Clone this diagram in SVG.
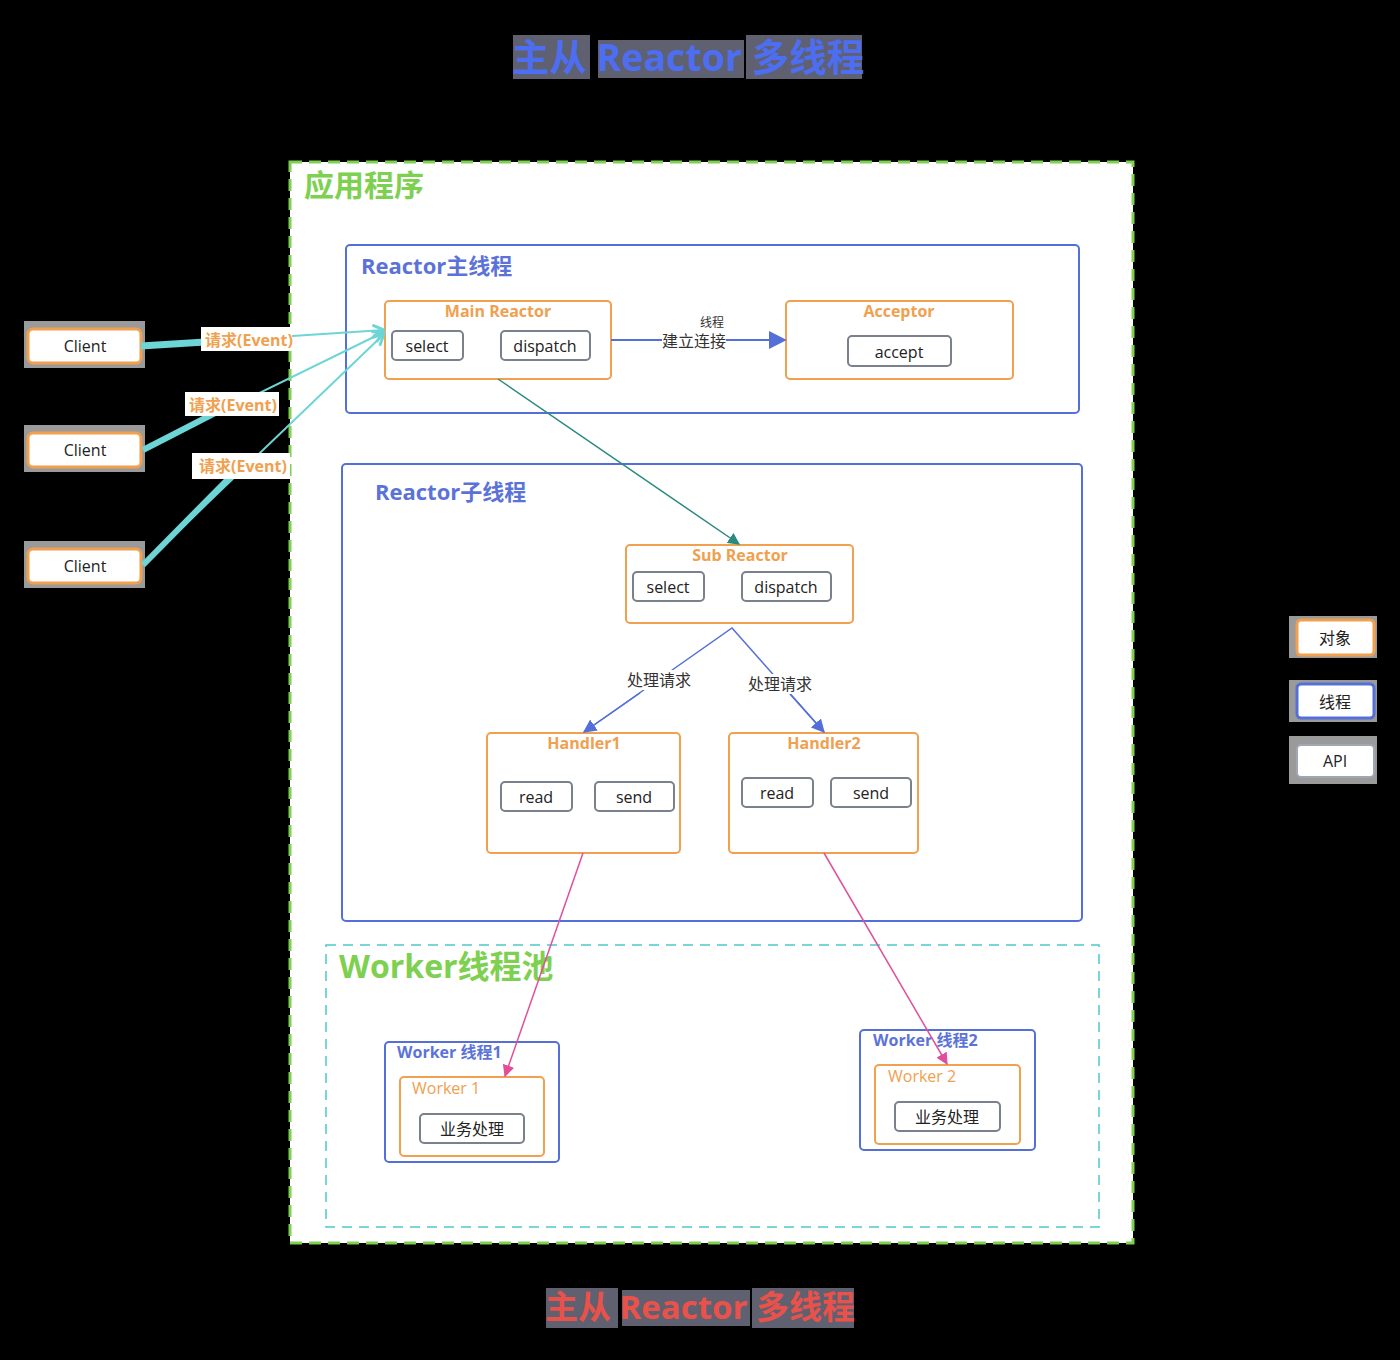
<svg xmlns="http://www.w3.org/2000/svg" width="1400" height="1360" viewBox="0 0 1400 1360">
<style>
text{font-family:"Open Sans","Noto Sans CJK SC",sans-serif}
.obj{fill:#fff;stroke:#f0a04e;stroke-width:2}
.thr{fill:#fff;stroke:#5470d8;stroke-width:2}
.api{fill:#fff;stroke:#7a808c;stroke-width:2}
.otitle{fill:#f0a04e;font-size:16px;font-weight:700;text-anchor:middle}
.t16{fill:#222;font-size:16px;text-anchor:middle}
.lbl{fill:#333;font-size:16px;text-anchor:middle}
.ev{fill:#f0a04e;font-size:16px;font-weight:700;text-anchor:middle}
.blue{fill:#5b73d9;font-weight:700}
.halo{fill:#9a9a9a}
</style>
<defs>
<marker id="mBlue" viewBox="0 0 10 10" refX="9" refY="5" markerWidth="9" markerHeight="9" orient="auto"><path d="M0,0 L10,5 L0,10 z" fill="#5470d8"/></marker>
<marker id="mTeal" viewBox="0 0 10 10" refX="9" refY="5" markerWidth="8" markerHeight="8" orient="auto"><path d="M0,0 L10,5 L0,10 z" fill="#2a8a80"/></marker>
<marker id="mPink" viewBox="0 0 10 10" refX="9" refY="5" markerWidth="8" markerHeight="8" orient="auto"><path d="M0,0 L10,5 L0,10 z" fill="#e0509a"/></marker>
<marker id="mCyan" viewBox="0 0 10 10" refX="9" refY="5" markerWidth="7" markerHeight="7" orient="auto"><path d="M1,1 L9,5 L1,9" fill="none" stroke="#6dd5d5" stroke-width="2"/></marker>
</defs>
<rect x="0" y="0" width="1400" height="1360" fill="#000"/>

<g id="title-top">
<rect x="513" y="35" width="77" height="44" fill="#5f6070"/>
<rect x="598" y="40" width="146" height="38" fill="#5f6070"/>
<rect x="746" y="35" width="116" height="44" fill="#5f6070"/>
<text x="688" y="71" font-size="37.5" font-weight="700" fill="#4d6ef0" text-anchor="middle">主从 Reactor 多线程</text>
</g>

<g id="app">
<rect x="290" y="162" width="843" height="1081" fill="#fff" stroke="#7ed050" stroke-width="3" stroke-dasharray="12,7"/>
<text x="304" y="196" font-size="30" font-weight="700" fill="#7ed050">应用程序</text>
</g>

<g id="main-thread">
<rect x="346" y="245" width="733" height="168" rx="4" class="thr"/>
<text x="361" y="274" font-size="22" class="blue">Reactor主线程</text>
</g>

<g id="main-reactor">
<rect x="385" y="301" width="226" height="78" rx="4" class="obj"/>
<text x="498" y="317" class="otitle">Main Reactor</text>
<rect x="392" y="331" width="71" height="29" rx="4" class="api"/>
<text x="427" y="352" class="t16">select</text>
<rect x="501" y="331" width="89" height="29" rx="4" class="api"/>
<text x="545" y="352" class="t16">dispatch</text>
</g>

<g id="acceptor">
<rect x="786" y="301" width="227" height="78" rx="4" class="obj"/>
<text x="899" y="317" class="otitle">Acceptor</text>
<rect x="848" y="336" width="103" height="30" rx="4" class="api"/>
<text x="899" y="358" class="t16">accept</text>
</g>

<g id="sub-thread">
<rect x="342" y="464" width="740" height="457" rx="4" class="thr"/>
<text x="375" y="500" font-size="22" class="blue">Reactor子线程</text>
</g>

<g id="sub-reactor">
<rect x="626" y="545" width="227" height="78" rx="4" class="obj"/>
<text x="740" y="561" class="otitle">Sub Reactor</text>
<rect x="633" y="572" width="71" height="29" rx="4" class="api"/>
<text x="668" y="593" class="t16">select</text>
<rect x="742" y="572" width="89" height="29" rx="4" class="api"/>
<text x="786" y="593" class="t16">dispatch</text>
</g>

<g id="handler1">
<rect x="487" y="733" width="193" height="120" rx="4" class="obj"/>
<text x="584" y="749" class="otitle">Handler1</text>
<rect x="501" y="782" width="71" height="29" rx="4" class="api"/>
<text x="536" y="803" class="t16">read</text>
<rect x="595" y="782" width="79" height="29" rx="4" class="api"/>
<text x="634" y="803" class="t16">send</text>
</g>

<g id="handler2">
<rect x="729" y="733" width="189" height="120" rx="4" class="obj"/>
<text x="824" y="749" class="otitle">Handler2</text>
<rect x="742" y="778" width="71" height="29" rx="4" class="api"/>
<text x="777" y="799" class="t16">read</text>
<rect x="831" y="778" width="80" height="29" rx="4" class="api"/>
<text x="871" y="799" class="t16">send</text>
</g>

<g id="worker-pool">
<rect x="326" y="945" width="773" height="282" fill="none" stroke="#4fc8c8" stroke-width="1.5" stroke-dasharray="10,7"/>
<text x="339" y="978" font-size="32" font-weight="700" fill="#7ed050">Worker线程池</text>
</g>

<g id="worker-thread1">
<rect x="385" y="1042" width="174" height="120" rx="4" class="thr"/>
<text x="397" y="1058" font-size="16" class="blue">Worker 线程1</text>
<rect x="400" y="1077" width="144" height="79" rx="4" class="obj"/>
<text x="412" y="1094" font-size="16" fill="#f0a04e">Worker 1</text>
<rect x="420" y="1114" width="104" height="29" rx="4" class="api"/>
<text x="472" y="1135" class="t16">业务处理</text>
</g>

<g id="worker-thread2">
<rect x="860" y="1030" width="175" height="120" rx="4" class="thr"/>
<text x="873" y="1046" font-size="16" class="blue">Worker 线程2</text>
<rect x="875" y="1065" width="145" height="79" rx="4" class="obj"/>
<text x="888" y="1082" font-size="16" fill="#f0a04e">Worker 2</text>
<rect x="895" y="1102" width="105" height="29" rx="4" class="api"/>
<text x="947" y="1123" class="t16">业务处理</text>
</g>

<g id="clients">
<rect x="24" y="321" width="121" height="47" class="halo"/>
<rect x="28" y="329" width="113" height="34" rx="5" fill="#fff" stroke="#f0a04e" stroke-width="3"/>
<text x="85" y="352" class="t16">Client</text>
<rect x="24" y="425" width="121" height="47" class="halo"/>
<rect x="28" y="433" width="113" height="34" rx="5" fill="#fff" stroke="#f0a04e" stroke-width="3"/>
<text x="85" y="456" class="t16">Client</text>
<rect x="24" y="541" width="121" height="47" class="halo"/>
<rect x="28" y="549" width="113" height="34" rx="5" fill="#fff" stroke="#f0a04e" stroke-width="3"/>
<text x="85" y="572" class="t16">Client</text>
</g>

<g id="legend">
<rect x="1289" y="616" width="88" height="42" class="halo"/>
<rect x="1297" y="620" width="77" height="35" rx="4" fill="#fff" stroke="#f0a04e" stroke-width="3"/>
<text x="1335" y="644" class="t16">对象</text>
<rect x="1289" y="680" width="88" height="42" class="halo"/>
<rect x="1297" y="684" width="77" height="34" rx="4" fill="#fff" stroke="#5470d8" stroke-width="3"/>
<text x="1335" y="708" class="t16">线程</text>
<rect x="1289" y="736" width="88" height="48" class="halo"/>
<rect x="1297" y="745" width="77" height="32" rx="4" fill="#fff" stroke="#a0a6b4" stroke-width="2"/>
<text x="1335" y="767" class="t16">API</text>
</g>

<g id="connectors">
<line x1="611" y1="340" x2="785" y2="340" stroke="#5470d8" stroke-width="2" marker-end="url(#mBlue)"/>
<text x="712" y="327" font-size="12" fill="#333" text-anchor="middle">线程</text>
<rect x="662" y="332" width="64" height="17" fill="#fff"/>
<text x="694" y="347" class="lbl">建立连接</text>
<line x1="498" y1="379" x2="739" y2="544" stroke="#2a8a80" stroke-width="1.5" marker-end="url(#mTeal)"/>
<polyline points="584,732 732,628 824,732" fill="none" stroke="#5470d8" stroke-width="1.5"/>
<line x1="640" y1="693" x2="584" y2="732" stroke="#5470d8" stroke-width="1.5" marker-end="url(#mBlue)"/>
<line x1="790" y1="694" x2="824" y2="732" stroke="#5470d8" stroke-width="1.5" marker-end="url(#mBlue)"/>
<rect x="626" y="670" width="66" height="20" fill="#fff"/>
<text x="659" y="686" class="lbl">处理请求</text>
<rect x="747" y="674" width="66" height="20" fill="#fff"/>
<text x="780" y="690" class="lbl">处理请求</text>
<line x1="583" y1="853" x2="505" y2="1076" stroke="#e0509a" stroke-width="1.5" marker-end="url(#mPink)"/>
<line x1="824" y1="853" x2="947" y2="1064" stroke="#e0509a" stroke-width="1.5" marker-end="url(#mPink)"/>
<line x1="141" y1="346" x2="384" y2="330" stroke="#6dd5d5" stroke-width="2" marker-end="url(#mCyan)"/>
<line x1="143" y1="450" x2="384" y2="332" stroke="#6dd5d5" stroke-width="2" marker-end="url(#mCyan)"/>
<line x1="143" y1="565" x2="384" y2="334" stroke="#6dd5d5" stroke-width="2" marker-end="url(#mCyan)"/>
<line x1="141" y1="346" x2="205" y2="342" stroke="#6dd5d5" stroke-width="7"/>
<line x1="143" y1="450" x2="215" y2="413" stroke="#6dd5d5" stroke-width="6"/>
<line x1="143" y1="565" x2="230" y2="477" stroke="#6dd5d5" stroke-width="6"/>
<rect x="201" y="327" width="91" height="24" fill="#fff"/>
<text x="249" y="346" class="ev">请求(Event)</text>
<rect x="185" y="392" width="94" height="24" fill="#fff"/>
<text x="233" y="411" class="ev">请求(Event)</text>
<rect x="192" y="453" width="98" height="26" fill="#fff"/>
<text x="243" y="472" class="ev">请求(Event)</text>
</g>

<g id="title-bottom">
<rect x="546" y="1288" width="72" height="40" fill="#5f6070"/>
<rect x="622" y="1290" width="128" height="36" fill="#5f6070"/>
<rect x="752" y="1288" width="102" height="40" fill="#5f6070"/>
<text x="700" y="1319" font-size="33" font-weight="700" fill="#e8524a" text-anchor="middle">主从 Reactor 多线程</text>
</g>
</svg>
